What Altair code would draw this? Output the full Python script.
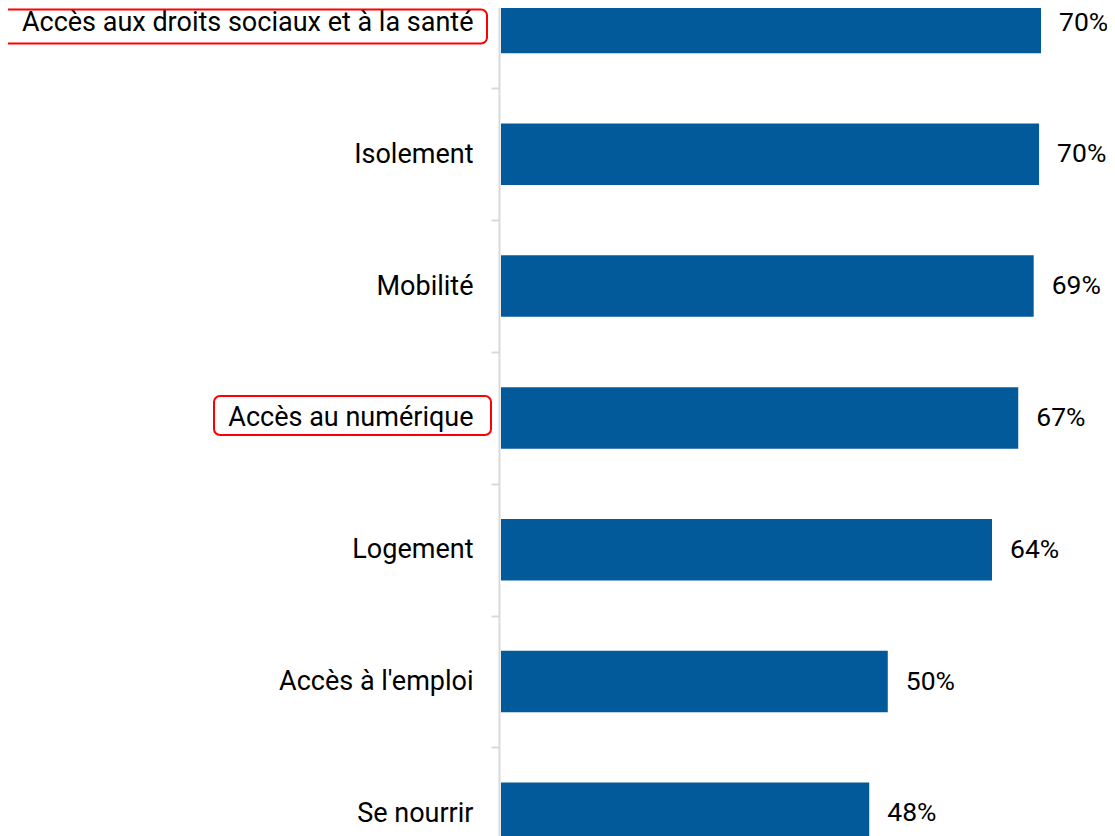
import altair as alt
import pandas as pd

categories = [
    "Accès aux droits sociaux et à la santé\u00a0",
    "Isolement",
    "Mobilité",
    "Accès au numérique",
    "Logement",
    "Accès à l'emploi\u00a0",
    "Se nourrir\u00a0",
]
values = [69.95, 69.7, 69.0, 67.0, 63.6, 50.1, 47.7]
highlighted = [categories[0], categories[3]]

df = pd.DataFrame({"cat": categories, "value": values})

BLUE = "#035a9b"
FONT = "Roboto"

y_enc = alt.Y(
    "cat:N",
    sort=categories,
    title=None,
    scale=alt.Scale(range=[-51.4, 871.2], paddingInner=0, paddingOuter=0),
    axis=alt.Axis(
        labelFont=FONT,
        labelFontSize=27,
        labelColor="#000000",
        labelPadding=18,
        labelLimit=0,
        tickBand="extent",
        tickSize=8,
        tickWidth=2,
        tickColor="#d9d9d9",
        domainColor="#d9d9d9",
        domainWidth=2,
        offset=2,
        grid=False,
    ),
)

x_enc = alt.X(
    "value:Q",
    scale=alt.Scale(domain=[0, 77.59], nice=False, zero=True),
    axis=None,
)

base = alt.Chart(df)

bars = base.mark_bar(color=BLUE, height=61.5).encode(y=y_enc, x=x_enc)

labels = (
    base.transform_calculate(lbl="format(datum.value, '.0f') + '%'")
    .mark_text(align="left", baseline="middle", dx=18, font=FONT, fontSize=26.5, color="#000000")
    .encode(y=alt.Y("cat:N", sort=categories), x=alt.X("value:Q"), text="lbl:N")
)

box_style = dict(cornerRadius=6, fill="#ffffff", fillOpacity=0, stroke="#ff0000", strokeWidth=2)

box1 = (
    base.transform_filter(alt.datum.cat == highlighted[0])
    .mark_bar(height=34, yOffset=4, **box_style)
    .encode(y=alt.Y("cat:N", sort=categories), x=alt.value(-503), x2=alt.value(-14))
)
box2 = (
    base.transform_filter(alt.datum.cat == highlighted[1])
    .mark_bar(height=39, yOffset=-2.4, **box_style)
    .encode(y=alt.Y("cat:N", sort=categories), x=alt.value(-287), x2=alt.value(-10))
)

chart = (
    alt.layer(bars, labels, box1, box2)
    .properties(
        width=599,
        height=828,
        autosize=alt.AutoSizeParams(type="none"),
        padding={"left": 493, "top": 0, "right": 7, "bottom": 0},
    )
    .configure_view(stroke=None)
)

chart.save("out.html", embed_options={"renderer": "svg", "actions": False})
